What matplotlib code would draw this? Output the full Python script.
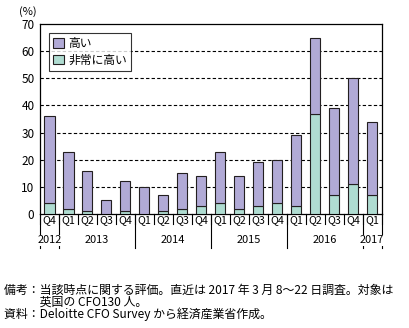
import matplotlib
matplotlib.use('Agg')
import matplotlib.pyplot as plt
import matplotlib.transforms as mtransforms
from matplotlib.patches import Patch
import numpy as np

plt.rcParams['font.family'] = ['Noto Sans CJK JP', 'DejaVu Sans']

# data
quarters = ['Q4', 'Q1', 'Q2', 'Q3', 'Q4', 'Q1', 'Q2', 'Q3', 'Q4',
            'Q1', 'Q2', 'Q3', 'Q4', 'Q1', 'Q2', 'Q3', 'Q4', 'Q1']
very_high = [4, 2, 1, 0, 1, 0, 1, 2, 3, 4, 2, 3, 4, 3, 37, 7, 11, 7]
high = [32, 21, 15, 5, 11, 10, 6, 13, 11, 19, 12, 16, 16, 26, 28, 32, 39, 27]
years = ['2012', '2013', '2014', '2015', '2016', '2017']
year_counts = [1, 4, 4, 4, 4, 1]

purple = '#b1aad6'
green = '#afdcd1'
edge = '#231f20'

fig = plt.figure(figsize=(4.1, 3.28), dpi=100)
ax = fig.add_axes([40 / 410, 1 - 214 / 328, 341.7 / 410, 190 / 328])

x = np.arange(len(quarters))
ax.bar(x, very_high, width=0.53, color=green, edgecolor=edge, linewidth=0.8, zorder=3)
ax.bar(x, high, width=0.53, bottom=very_high, color=purple, edgecolor=edge,
       linewidth=0.8, zorder=3)

ax.set_xlim(-0.5, len(quarters) - 0.5)
ax.set_ylim(0, 70)
ax.set_yticks(range(0, 71, 10))
ax.tick_params(axis='y', length=0, pad=4, labelsize=8.5)
ax.set_xticks([])
for y in range(10, 70, 10):
    ax.axhline(y, color='black', linewidth=0.8, linestyle=(0, (3, 2)), zorder=1)
for s in ax.spines.values():
    s.set_color('black')
    s.set_linewidth(0.9)

# quarter / year labels below the axis
trans = mtransforms.blended_transform_factory(ax.transData, ax.transAxes)
for i, q in enumerate(quarters):
    ax.text(i, -0.047, q, transform=trans, ha='center', va='baseline', fontsize=7.7)
for b in np.arange(len(quarters) + 1) - 0.5:
    ax.plot([b, b], [0, -0.05], transform=trans, color='black', linewidth=0.8,
            clip_on=False)

start = 0
for yr, n in zip(years, year_counts):
    ax.plot([start - 0.5, start - 0.5], [0, -0.179], transform=trans, color='black',
            linewidth=0.8, clip_on=False)
    start += n
ax.plot([start - 0.5, start - 0.5], [0, -0.179], transform=trans, color='black',
        linewidth=0.8, clip_on=False)

start = 0
for yr, n in zip(years, year_counts):
    ax.text(start + (n - 1) / 2, -0.155, yr, transform=trans, ha='center', va='baseline',
            fontsize=7.9, bbox=dict(facecolor='white', edgecolor='none', pad=0.3),
            zorder=5)
    start += n

handles = [Patch(facecolor=purple, edgecolor=edge, linewidth=0.8, label='高い'),
           Patch(facecolor=green, edgecolor=edge, linewidth=0.8, label='非常に高い')]
leg = ax.legend(handles=handles, loc='upper left', bbox_to_anchor=(0.026, 0.953),
                fontsize=8.5, frameon=True, fancybox=False, handlelength=0.9,
                handleheight=0.9, handletextpad=0.4, borderpad=0.35, labelspacing=0.3,
                borderaxespad=0)
leg.get_frame().set_edgecolor('black')
leg.get_frame().set_linewidth(0.8)
leg.set_zorder(6)

fig.text(28 / 410, 1 - 15 / 328, '(%)', ha='center', va='baseline', fontsize=8)

notes = ('備考：当該時点に関する評価。直近は 2017 年 3 月 8〜22 日調査。対象は\n'
         '　　　英国の CFO130 人。\n'
         '資料：Deloitte CFO Survey から経済産業省作成。')
fig.text(4 / 410, 1 - 284 / 328, notes, ha='left', va='top', fontsize=8.6,
         linespacing=0.85)

fig.savefig('out.png', dpi=100, facecolor='white')
plt.close(fig)
